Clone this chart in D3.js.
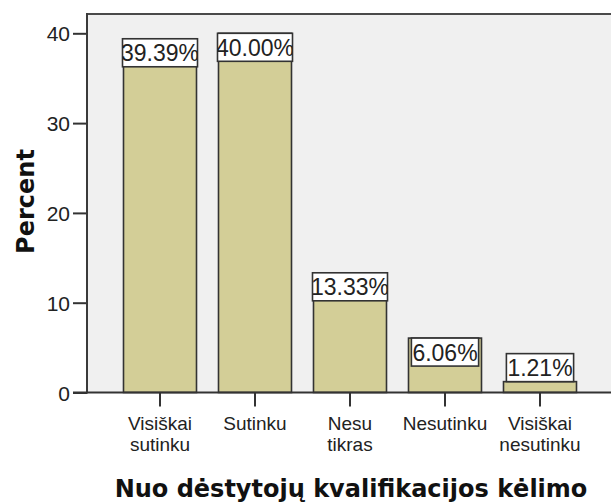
<!DOCTYPE html>
<html>
<head>
<meta charset="utf-8">
<script src="https://cdn.jsdelivr.net/npm/d3@7"></script>
<style>
  html, body { margin: 0; padding: 0; background: #ffffff; }
  svg { display: block; }
</style>
</head>
<body>
<svg id="chart" width="611" height="504"></svg>
<script>
// ---- data ----
const categories = ["Visiškai sutinku", "Sutinku", "Nesu tikras", "Nesutinku", "Visiškai nesutinku"];
const categoryLines = [["Visiškai", "sutinku"], ["Sutinku"], ["Nesu", "tikras"], ["Nesutinku"], ["Visiškai", "nesutinku"]];
const percentValues = [39.39, 40.00, 13.33, 6.06, 1.21];
const yTickValues = [0, 10, 20, 30, 40];
const xTitle = "Nuo dėstytojų kvalifikacijos kėlimo";
const yTitle = "Percent";

// ---- layout ----
const W = 611, H = 504;
const plotLeft = 87, plotTop = 14, plotBottom = 392.5, plotRight = 612;
const svg = d3.select("#chart");
const regFont = "'Liberation Sans', Arial, sans-serif";
const boldFont = "'DejaVu Sans', Verdana, sans-serif";

const y = d3.scaleLinear().domain([0, 42.15]).range([plotBottom, plotTop]);
const x = d3.scaleBand().domain(categories).range([112.5, 587.5])
  .paddingInner(22 / 95).paddingOuter(11 / 95);

// plot background
svg.append("rect")
  .attr("x", plotLeft).attr("y", plotTop)
  .attr("width", plotRight - plotLeft).attr("height", plotBottom - plotTop)
  .attr("fill", "#f0f0f0");

// top border
svg.append("line")
  .attr("x1", plotLeft).attr("x2", plotRight)
  .attr("y1", plotTop).attr("y2", plotTop)
  .attr("stroke", "#4a4a4a").attr("stroke-width", 2);

// bars
const bw = x.bandwidth();
svg.append("g").selectAll("rect")
  .data(percentValues)
  .join("rect")
  .attr("x", (d, i) => x(categories[i]))
  .attr("y", d => y(d))
  .attr("width", bw)
  .attr("height", d => plotBottom - y(d))
  .attr("fill", "#d3ce97")
  .attr("stroke", "#333333")
  .attr("stroke-width", 1.6);

// y axis
const yAxis = svg.append("g")
  .attr("transform", `translate(${plotLeft},0)`)
  .call(d3.axisLeft(y).tickValues(yTickValues).tickSize(14).tickPadding(3).tickFormat(d3.format("d")));
yAxis.select(".domain").remove();
yAxis.selectAll(".tick line").attr("stroke", "#333").attr("stroke-width", 2);
yAxis.selectAll(".tick text")
  .attr("font-family", regFont).attr("font-size", 21).attr("fill", "#222")
  .attr("dy", "0.36em");
// left frame line
svg.append("line")
  .attr("x1", plotLeft).attr("x2", plotLeft)
  .attr("y1", plotTop - 1).attr("y2", plotBottom + 1)
  .attr("stroke", "#3a3a3a").attr("stroke-width", 2);

// x axis
const xAxis = svg.append("g")
  .attr("transform", `translate(0,${plotBottom})`)
  .call(d3.axisBottom(x).tickSize(14).tickFormat(""));
xAxis.select(".domain").remove();
xAxis.selectAll(".tick line").attr("stroke", "#333").attr("stroke-width", 2);
svg.append("line")
  .attr("x1", plotLeft - 14).attr("x2", plotRight)
  .attr("y1", plotBottom).attr("y2", plotBottom)
  .attr("stroke", "#333").attr("stroke-width", 2);

// category labels (multi-line, one text per line)
const catG = svg.append("g");
categories.forEach((c, i) => {
  categoryLines[i].forEach((ln, j) => {
    catG.append("text")
      .attr("x", x(c) + bw / 2)
      .attr("y", 429.5 + j * 21.5)
      .attr("text-anchor", "middle")
      .attr("font-family", regFont).attr("font-size", 19).attr("fill", "#222")
      .text(ln);
  });
});

// value labels in boxes
const defs = svg.append("defs");
const lblG = svg.append("g");
const boxH = 28;
const lblSize = 23;
percentValues.forEach((v, i) => {
  const label = v.toFixed(2) + "%";
  const cx = x(categories[i]) + bw / 2;
  const tmp = lblG.append("text")
    .attr("font-family", regFont).attr("font-size", lblSize).text(label);
  const tw = tmp.node().getComputedTextLength();
  tmp.remove();
  const boxW = Math.min(tw + 2, bw + 2);
  const barTop = y(v);
  const inside = (plotBottom - barTop) >= boxH;
  const boxTop = inside ? barTop : barTop - boxH;
  const clipId = "clip" + i;
  defs.append("clipPath").attr("id", clipId)
    .append("rect").attr("x", cx - boxW / 2).attr("y", boxTop).attr("width", boxW).attr("height", boxH);
  lblG.append("rect")
    .attr("x", cx - boxW / 2).attr("y", boxTop)
    .attr("width", boxW).attr("height", boxH)
    .attr("fill", "#ffffff").attr("stroke", "#333").attr("stroke-width", 1.6);
  lblG.append("text")
    .attr("clip-path", `url(#${clipId})`)
    .attr("x", cx).attr("y", boxTop + 22.5)
    .attr("text-anchor", "middle")
    .attr("font-family", regFont).attr("font-size", lblSize).attr("fill", "#222")
    .text(label);
});

// axis titles
svg.append("text")
  .attr("transform", "translate(34,201.5) rotate(-90)")
  .attr("text-anchor", "middle")
  .attr("font-family", boldFont).attr("font-weight", "bold").attr("font-size", 24)
  .attr("fill", "#111")
  .text(yTitle);

svg.append("text")
  .attr("x", 351).attr("y", 497)
  .attr("text-anchor", "middle")
  .attr("font-family", boldFont).attr("font-weight", "bold").attr("font-size", 24)
  .attr("fill", "#111")
  .text(xTitle);
</script>
</body>
</html>
